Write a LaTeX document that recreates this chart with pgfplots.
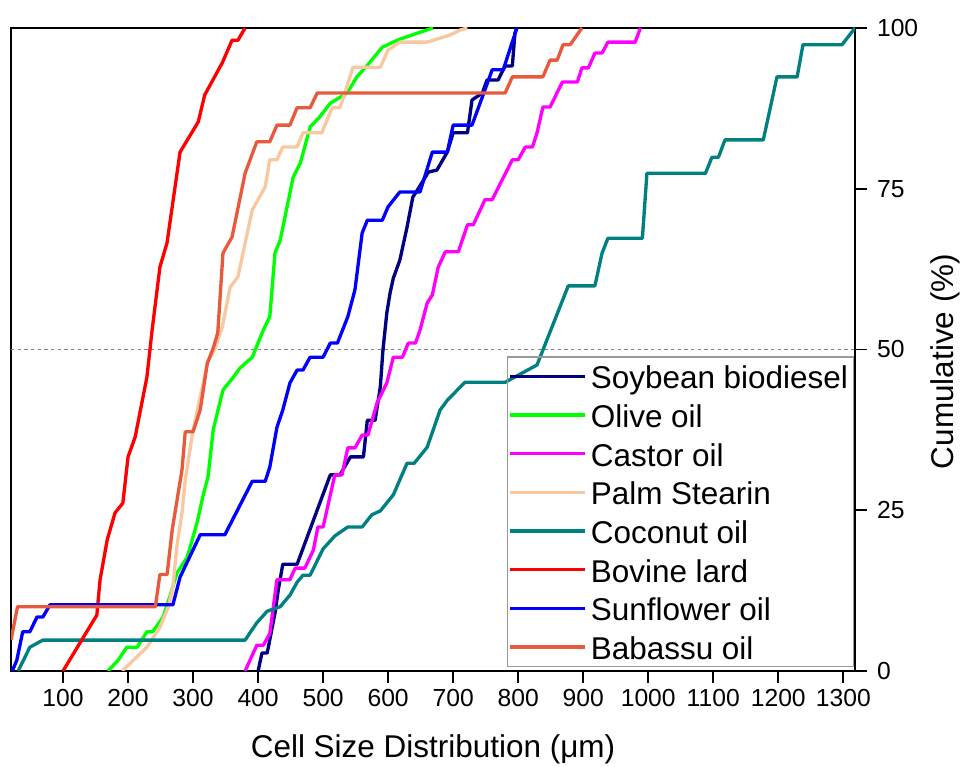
\documentclass[border=0pt]{standalone}
\usepackage{fontspec}
\setmainfont{Liberation Sans}
\usepackage{pgfplots}
\pgfplotsset{compat=1.18}
\definecolor{cSoy}{RGB}{0,0,128}
\definecolor{cOlive}{RGB}{0,255,0}
\definecolor{cCastor}{RGB}{255,0,255}
\definecolor{cPalm}{RGB}{248,200,160}
\definecolor{cCoco}{RGB}{0,128,128}
\definecolor{cBov}{RGB}{255,0,0}
\definecolor{cSun}{RGB}{0,0,255}
\definecolor{cBab}{RGB}{232,90,60}
\begin{document}
\begin{tikzpicture}
\path[use as bounding box] (-8.25pt,-74.25pt) rectangle (717pt,503.25pt);
\begin{axis}[
  at={(0pt,0pt)}, anchor=south west,
  width=633pt, height=482.25pt, scale only axis,
  xmin=20, xmax=1318, ymin=0, ymax=100,
  xtick={100,200,...,1300}, ytick={0,25,50,75,100},
  xtick pos=bottom, ytick pos=right, yticklabel pos=right,
  tick align=outside, major tick length=9pt, minor tick num=0,
  every tick/.style={black, line width=1.4pt},
  axis line style={line width=1.6pt},
  /pgf/number format/assume math mode=true,
  /pgf/number format/1000 sep={},
  tick label style={font=\fontsize{18.5}{22}\selectfont},
  yticklabel style={xshift=4pt},
  xticklabel style={yshift=-1pt},
  xlabel={Cell Size Distribution (\symbol{"03BC}m)},
  ylabel={Cumulative (\%)},
  label style={font=\fontsize{23.6}{28}\selectfont},
  xlabel style={at={(axis description cs:0.5,0)}, anchor=center, yshift=-59pt},
  ylabel style={at={(axis description cs:1,0.5)}, anchor=center, yshift=-67.5pt, xshift=-9pt},
  legend cell align=left,
  legend image code/.code={\draw[#1] (1.5pt,0pt) -- (57.5pt,0pt);},
  legend style={at={(axis description cs:1,0)}, anchor=south east, xshift=-0.75pt, yshift=3pt,
    draw=gray!80, line width=1pt, fill=none, inner xsep=1pt, inner ysep=0pt, row sep=0pt,
    font=\fontsize{23.6}{28}\selectfont,
    nodes={inner xsep=3pt, inner ysep=3.5pt, text height=20.5pt, text depth=1.5pt}},
  every axis plot/.append style={line width=2.5pt, line join=round},
]
\addplot[gray, line width=0.75pt, dash pattern=on 2.5pt off 2.5pt, forget plot] coordinates {(20,50) (1318,50)};
\addplot[cSoy] coordinates {(400,0)(406,2.8)(414,2.8)(426,9)(431,12.6)(438,16.6)(460,16.6)(511,30.5)(526,30.5)(542,33.3)(562,33.3)(568,39)(580,39)(588,44.2)(592,49.9)(598,55.7)(603,58.8)(608,61.1)(618,63.9)(629,69)(638,73.7)(645,74.8)(662,77.6)(675,77.9)(691,80.7)(700,83.7)(722,83.7)(729,88.8)(745,89.9)(752,91.9)(769,91.9)(780,94.1)(791,94.1)(795,99.2)(798,100)};
\addlegendentry{Soybean biodiesel}
\addplot[cOlive] coordinates {(169,0)(185,1.7)(198,3.7)(214,3.7)(229,6.1)(238,6.1)(254,8.4)(265,11.8)(275,15.2)(291,17.7)(306,23)(315,27.1)(323,30.2)(331,37.5)(346,43.7)(362,45.7)(372,47.1)(391,48.8)(408,53)(418,55.1)(426,65)(434,67)(454,76.8)(465,79)(480,84.6)(495,86.2)(511,88.3)(537,89.9)(552,92.4)(568,94.2)(591,97)(614,98.1)(645,99.2)(669,100)};
\addlegendentry{Olive oil}
\addplot[cCastor] coordinates {(380,0)(398,4)(408,4)(418,5.8)(429,14.2)(449,14.2)(457,16)(472,16)(485,18.8)(492,22.4)(500,22.4)(518,30.5)(529,30.5)(538,34.7)(549,34.7)(560,36.7)(569,36.7)(583,41.7)(598,44.8)(608,48.8)(622,48.8)(631,51)(642,51)(649,53)(660,57.2)(668,58.5)(677,62.8)(688,65.2)(708,65.2)(722,69.4)(731,69.4)(749,73.3)(760,73.3)(791,79.5)(800,79.5)(811,81.5)(822,81.5)(829,83.7)(838,87.7)(849,87.7)(868,91.6)(891,91.6)(898,93.8)(908,93.8)(918,96.1)(929,96.1)(938,97.8)(980,97.8)(988,100)};
\addlegendentry{Castor oil}
\addplot[cPalm] coordinates {(191,0)(229,3.7)(249,6.8)(262,10)(269,13.1)(275,19.3)(283,24.6)(288,29.7)(300,37.5)(311,42.6)(322,47.9)(334,50.2)(345,53.5)(357,59.7)(369,61.3)(391,71.7)(411,75.3)(418,79.5)(429,79.5)(438,81.5)(460,81.5)(469,83.7)(498,83.7)(514,87.6)(526,87.6)(546,93.9)(588,93.9)(600,96.6)(618,97.8)(660,97.8)(695,98.9)(711,99.7)(722,100)};
\addlegendentry{Palm Stearin}
\addplot[cCoco] coordinates {(31,0)(49,3.7)(69,4.8)(380,4.8)(398,7.5)(414,9.3)(434,10)(449,11.8)(460,13.8)(469,14.9)(480,14.9)(500,19)(518,21)(538,22.4)(560,22.4)(575,24.3)(588,24.9)(608,27.4)(629,32.3)(640,32.3)(660,34.8)(680,40.6)(691,42.1)(718,44.9)(780,44.9)(829,47.6)(877,59.9)(918,59.9)(929,65)(938,67.3)(991,67.3)(998,77.4)(1088,77.4)(1098,79.9)(1108,79.9)(1118,82.6)(1177,82.6)(1198,92.4)(1229,92.4)(1238,97.4)(1298,97.4)(1318,100)};
\addlegendentry{Coconut oil}
\addplot[cBov] coordinates {(100,0)(152,8.7)(157,14.2)(168,20.4)(180,24.6)(192,26.1)(200,33.3)(211,36.4)(229,45.7)(237,53)(249,62.8)(260,66.6)(280,80.7)(308,85.4)(318,89.6)(345,94.6)(360,98.1)(369,98.1)(380,100)};
\addlegendentry{Bovine lard}
\addplot[cSun] coordinates {(22,0)(29,1.7)(38,6.1)(49,6.1)(60,8.4)(69,8.4)(80,10.3)(269,10.3)(280,14.6)(311,21.2)(349,21.2)(391,29.5)(411,29.5)(418,31.7)(429,37.9)(438,40.6)(449,44.8)(460,46.8)(469,46.8)(480,48.8)(500,48.8)(511,51)(522,51)(538,55.1)(549,59.3)(560,68.1)(568,70.1)(591,70.1)(600,72.2)(618,74.5)(649,74.5)(668,80.7)(691,80.7)(700,84.9)(729,84.9)(745,89.3)(760,93.5)(777,93.5)(798,100)};
\addlegendentry{Sunflower oil}
\addplot[cBab] coordinates {(20,4.8)(30,10)(242,10)(249,15)(260,15)(268,22)(283,31.3)(288,37.2)(300,37.2)(311,40.6)(322,47.9)(331,50.2)(338,52.6)(346,65)(360,67.5)(380,77.4)(398,82.3)(418,82.3)(429,84.9)(449,84.9)(460,87.6)(480,87.6)(491,89.9)(780,89.9)(791,92.4)(838,92.4)(849,95)(860,95)(869,97.4)(880,97.4)(898,100)};
\addlegendentry{Babassu oil}
\end{axis}
\end{tikzpicture}
\end{document}
